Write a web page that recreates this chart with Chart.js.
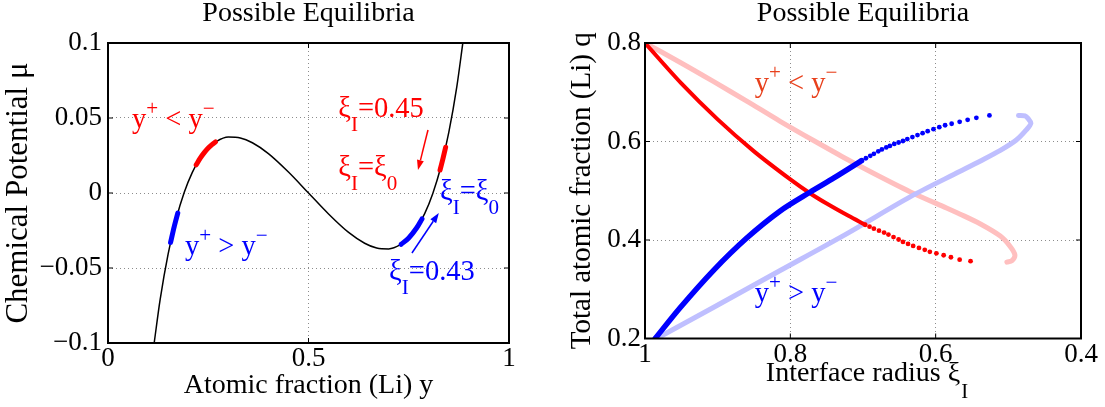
<!DOCTYPE html>
<html>
<head>
<meta charset="utf-8">
<script src="https://cdn.jsdelivr.net/npm/chart.js@4.4.1/dist/chart.umd.min.js"></script>
<style>
  body { margin: 0; background: #fff; }
  #wrap { position: relative; width: 1105px; height: 407px; }
  canvas { position: absolute; top: 0; }
</style>
</head>
<body>
<div id="wrap">
  <canvas id="muChart" width="560" height="407" style="left:0;width:560px;height:407px"></canvas>
  <canvas id="qChart" width="545" height="407" style="left:560px;width:545px;height:407px"></canvas>
</div>
<script>
/* =========================
   DATA
========================= */

// left: chemical potential vs atomic fraction
const yFrac = [0.115, 0.13, 0.15, 0.17, 0.19, 0.21, 0.23, 0.25, 0.27, 0.30, 0.33, 0.36, 0.40, 0.45, 0.50,
               0.55, 0.60, 0.64, 0.67, 0.70, 0.73, 0.75, 0.77, 0.79, 0.81, 0.83, 0.85, 0.87, 0.885];
const muVals = [-0.1003, -0.0711, -0.0406, -0.0173, 0.0003, 0.0136, 0.0232, 0.0300, 0.0343, 0.0373, 0.0367, 0.0335, 0.0263, 0.0140, 0,
                -0.0140, -0.0263, -0.0335, -0.0367, -0.0373, -0.0343, -0.0300, -0.0232, -0.0136, -0.0003, 0.0173, 0.0406, 0.0711, 0.1003];

// highlighted pieces of the curve
const redLowY = [0.22, 0.23, 0.24, 0.25, 0.26, 0.268];
const redLowMu = [0.0188, 0.0232, 0.0269, 0.0300, 0.0324, 0.0340];
const redHighY = [0.828, 0.835, 0.842];
const redHighMu = [0.0153, 0.0226, 0.0305];
const blueLowY = [0.156, 0.165, 0.174];
const blueLowMu = [-0.0330, -0.0226, -0.0134];
const blueHighY = [0.731, 0.75, 0.77, 0.783];
const blueHighMu = [-0.0342, -0.0300, -0.0232, -0.0173];

const yTicks = [0, 0.5, 1];
const yTickLabels = ["0", "0.5", "1"];
const muTicks = [-0.1, -0.05, 0, 0.05, 0.1];
const muTickLabels = ["\u22120.1", "\u22120.05", "0", "0.05", "0.1"];

// right: total atomic fraction vs interface radius
const redXi = [1.0, 0.95, 0.9, 0.85, 0.8, 0.773, 0.75, 0.72, 0.697];
const redQ = [0.8, 0.718, 0.645, 0.580, 0.523, 0.495, 0.474, 0.449, 0.431];
const redDotXi = [0.697, 0.691, 0.685, 0.678, 0.671, 0.665, 0.658, 0.651, 0.645, 0.638, 0.631, 0.623, 0.615, 0.608, 0.599, 0.589, 0.579, 0.567, 0.552];
const redDotQ = [0.431, 0.427, 0.423, 0.419, 0.415, 0.411, 0.406, 0.401, 0.396, 0.392, 0.388, 0.384, 0.380, 0.376, 0.373, 0.369, 0.365, 0.360, 0.357];

const blueXi = [0.986, 0.952, 0.906, 0.860, 0.814, 0.773, 0.740, 0.702];
const blueQ = [0.200, 0.262, 0.338, 0.404, 0.459, 0.497, 0.526, 0.561];
const blueDotXi = [0.702, 0.696, 0.690, 0.685, 0.679, 0.674, 0.668, 0.663, 0.657, 0.651, 0.645, 0.639, 0.632, 0.625, 0.618, 0.611, 0.603, 0.595, 0.587, 0.578, 0.567, 0.556, 0.544, 0.526];
const blueDotQ = [0.561, 0.566, 0.571, 0.575, 0.580, 0.584, 0.588, 0.591, 0.595, 0.598, 0.601, 0.605, 0.609, 0.613, 0.617, 0.621, 0.625, 0.629, 0.633, 0.636, 0.640, 0.644, 0.648, 0.653];

const pinkXi = [1.0, 0.952, 0.906, 0.860, 0.814, 0.768, 0.722, 0.677, 0.631, 0.585, 0.567, 0.539, 0.511, 0.498, 0.491, 0.495, 0.502];
const pinkQ = [0.8, 0.761, 0.722, 0.682, 0.641, 0.602, 0.564, 0.529, 0.495, 0.465, 0.453, 0.433, 0.408, 0.388, 0.370, 0.358, 0.355];

const paleBlueXi = [0.979, 0.906, 0.814, 0.722, 0.631, 0.567, 0.539, 0.511, 0.489, 0.475, 0.469, 0.473, 0.477, 0.486];
const paleBlueQ = [0.204, 0.263, 0.338, 0.413, 0.491, 0.539, 0.560, 0.582, 0.603, 0.624, 0.637, 0.647, 0.652, 0.653];

const xiTicks = [0.4, 0.6, 0.8, 1];
const xiTickLabels = ["0.4", "0.6", "0.8", "1"];
const qTicks = [0.2, 0.4, 0.6, 0.8];
const qTickLabels = ["0.2", "0.4", "0.6", "0.8"];

/* =========================
   HELPERS
========================= */

const FONT = "'Liberation Serif', 'Times New Roman', Times, serif";
const NOTE_SIZE = 28.5;
const XTITLE_SIZE = 28;

Chart.defaults.font.family = FONT;
Chart.defaults.color = "#000";

const pts = (xs, ys) => xs.map((x, i) => ({ x, y: ys[i] }));
const serif = (size, extra) => Object.assign({ family: FONT, size, weight: "normal", lineHeight: 1 }, extra || {});

function lineSet(xs, ys, color, width) {
  return {
    data: pts(xs, ys),
    showLine: true,
    borderColor: color,
    borderWidth: width,
    borderCapStyle: "round",
    borderJoinStyle: "round",
    pointRadius: 0,
    tension: 0.3
  };
}

function dotSet(xs, ys, color) {
  return {
    data: pts(xs, ys),
    showLine: false,
    pointRadius: 2.4,
    pointBorderWidth: 0,
    pointBackgroundColor: color
  };
}

function richText(ctx, x, y, parts, color, size) {
  ctx.save();
  ctx.fillStyle = color;
  ctx.textAlign = "left";
  ctx.textBaseline = "alphabetic";
  parts.forEach(p => {
    const small = p.sup || p.sub;
    ctx.font = `${small ? size * 0.74 : size}px ${FONT}`;
    const dy = p.sup ? -size * 0.45 : (p.sub ? size * 0.5 : 0);
    ctx.fillText(p.t, x, y + dy);
    x += ctx.measureText(p.t).width;
  });
  ctx.restore();
}

function arrow(ctx, x1, y1, x2, y2, color) {
  const a = Math.atan2(y2 - y1, x2 - x1);
  const len = 10, half = 3.5;
  const bx = x2 - Math.cos(a) * len, by = y2 - Math.sin(a) * len;
  ctx.save();
  ctx.strokeStyle = color;
  ctx.fillStyle = color;
  ctx.lineWidth = 1.5;
  ctx.beginPath();
  ctx.moveTo(x1, y1);
  ctx.lineTo(bx, by);
  ctx.stroke();
  ctx.beginPath();
  ctx.moveTo(x2, y2);
  ctx.lineTo(bx - Math.sin(a) * half, by + Math.cos(a) * half);
  ctx.lineTo(bx + Math.sin(a) * half, by - Math.cos(a) * half);
  ctx.closePath();
  ctx.fill();
  ctx.restore();
}

// box round the axes + small inward ticks (matlab style)
const framePlugin = {
  id: "frame",
  afterDraw(chart) {
    const { ctx, chartArea: a, scales: { x, y } } = chart;
    ctx.save();
    ctx.strokeStyle = "#000";
    ctx.setLineDash([]);
    ctx.lineWidth = 1;
    ctx.beginPath();
    x.ticks.forEach(t => {
      const px = x.getPixelForValue(t.value);
      ctx.moveTo(px, a.bottom); ctx.lineTo(px, a.bottom - 5);
      ctx.moveTo(px, a.top); ctx.lineTo(px, a.top + 5);
    });
    y.ticks.forEach(t => {
      const py = y.getPixelForValue(t.value);
      ctx.moveTo(a.left, py); ctx.lineTo(a.left + 5, py);
      ctx.moveTo(a.right, py); ctx.lineTo(a.right - 5, py);
    });
    ctx.stroke();
    ctx.lineWidth = 2;
    ctx.strokeRect(a.left, a.top, a.right - a.left, a.bottom - a.top);
    ctx.restore();
  }
};

function notesPlugin(notes, arrows, extra) {
  return {
    id: "notes",
    afterDraw(chart) {
      const { ctx, scales: { x, y } } = chart;
      notes.forEach(n => richText(ctx, x.getPixelForValue(n.at[0]), y.getPixelForValue(n.at[1]), n.parts, n.color, NOTE_SIZE));
      arrows.forEach(r => arrow(ctx,
        x.getPixelForValue(r.from[0]), y.getPixelForValue(r.from[1]),
        x.getPixelForValue(r.to[0]), y.getPixelForValue(r.to[1]), r.color));
      if (extra) extra(chart);
    }
  };
}

function baseScale(min, max, step, values, labels, pad) {
  return {
    type: "linear",
    min, max,
    ticks: {
      stepSize: step,
      padding: pad,
      autoSkip: false,
      maxRotation: 0,
      color: "#000",
      font: serif(27, { lineHeight: 1.2 }),
      // pick label by value (reversed axes reorder the tick list)
      callback: v => labels[values.findIndex(t => Math.abs(t - v) < 1e-6)]
    },
    grid: { color: "#8c8c8c", lineWidth: 1, drawTicks: false },
    border: { display: false, dash: [1, 3] }
  };
}

const titleOpts = {
  display: true,
  text: "Possible Equilibria",
  color: "#000",
  fullSize: false,
  font: serif(28),
  padding: { top: 0, bottom: 15 }
};

const LT = [{ t: "y" }, { t: "+", sup: 1 }, { t: " < y" }, { t: "\u2212", sup: 1 }];
const GT = [{ t: "y" }, { t: "+", sup: 1 }, { t: " > y" }, { t: "\u2212", sup: 1 }];
const XI0 = [{ t: "\u03BE" }, { t: "I", sub: 1 }, { t: "=\u03BE" }, { t: "0", sub: 1 }];

/* =========================
   LEFT: CHEMICAL POTENTIAL
========================= */

const leftNotes = [
  { at: [0.06, 0.0433], parts: LT, color: "#ff0000" },
  { at: [0.574, 0.0509], parts: [{ t: "\u03BE" }, { t: "I", sub: 1 }, { t: "=0.45" }], color: "#ff0000" },
  { at: [0.574, 0.0113], parts: XI0, color: "#ff0000" },
  { at: [0.828, -0.0045], parts: XI0, color: "#0000ff" },
  { at: [0.701, -0.058], parts: [{ t: "\u03BE" }, { t: "I", sub: 1 }, { t: "=0.43" }], color: "#0000ff" },
  { at: [0.192, -0.0413], parts: GT, color: "#0000ff" }
];
const leftArrows = [
  { from: [0.798, 0.042], to: [0.773, 0.0153], color: "#ff0000" },
  { from: [0.758, -0.040], to: [0.825, -0.0133], color: "#0000ff" }
];

const muX = baseScale(0, 1, 0.5, yTicks, yTickLabels, 0);
muX.afterFit = s => { s.height = 64; };
muX.title = { display: true, text: "Atomic fraction (Li) y", color: "#000", font: serif(XTITLE_SIZE), padding: { top: 0, bottom: 7 } };

const muY = baseScale(-0.1, 0.1, 0.05, muTicks, muTickLabels, 6);
muY.afterFit = s => { s.width = 108; };
muY.title = { display: true, text: "Chemical Potential \u03BC", color: "#000", font: serif(31), padding: { top: 3, bottom: 0 } };

new Chart(document.getElementById("muChart"), {
  type: "scatter",
  data: {
    datasets: [
      lineSet(redLowY, redLowMu, "#ff0000", 5),
      lineSet(redHighY, redHighMu, "#ff0000", 5),
      lineSet(blueLowY, blueLowMu, "#0000ff", 5),
      lineSet(blueHighY, blueHighMu, "#0000ff", 5),
      Object.assign(lineSet(yFrac, muVals, "#000000", 1.5), { tension: 0, cubicInterpolationMode: "monotone" })
    ]
  },
  options: {
    responsive: false,
    animation: false,
    font: { family: FONT },
    layout: { padding: { left: 0, right: 51, top: 0, bottom: 0 } },
    plugins: { legend: { display: false }, tooltip: { enabled: false }, title: titleOpts },
    scales: { x: muX, y: muY }
  },
  plugins: [framePlugin, notesPlugin(leftNotes, leftArrows)]
});

/* =========================
   RIGHT: TOTAL FRACTION
========================= */

const rightNotes = [
  { at: [0.849, 0.700], parts: LT, color: "#e8401c" },
  { at: [0.849, 0.275], parts: GT, color: "#0000ff" }
];

const XI_PAD = 19;
const qX = baseScale(0.4, 1, 0.2, xiTicks, xiTickLabels, 0);
qX.reverse = true;
qX.afterFit = s => { s.height = 68.5; };
qX.title = { display: true, text: "Interface radius \u03BE", color: "#000", font: serif(XTITLE_SIZE), padding: { top: 0, bottom: XI_PAD } };

const qY = baseScale(0.2, 0.8, 0.2, qTicks, qTickLabels, 4);
qY.afterFit = s => { s.width = 85; };
qY.title = { display: true, text: "Total atomic fraction (Li) q", color: "#000", font: serif(29), padding: { top: 8, bottom: 0 } };

// subscript I after the xi in the x title
function xiSubscript(chart) {
  const { ctx, scales: { x } } = chart;
  ctx.save();
  ctx.font = `${XTITLE_SIZE}px ${FONT}`;
  const w = ctx.measureText(x.options.title.text).width;
  const cx = (x.left + x.right) / 2;
  const cy = x.bottom - XI_PAD - XTITLE_SIZE / 2;
  ctx.font = `${XTITLE_SIZE * 0.74}px ${FONT}`;
  ctx.fillStyle = "#000";
  ctx.textBaseline = "alphabetic";
  ctx.fillText("I", cx + w / 2 + 1, cy + XTITLE_SIZE * 0.34 + XTITLE_SIZE * 0.5);
  ctx.restore();
}

new Chart(document.getElementById("qChart"), {
  type: "scatter",
  data: {
    datasets: [
      dotSet(blueDotXi, blueDotQ, "#0000ff"),
      dotSet(redDotXi, redDotQ, "#ff0000"),
      lineSet(blueXi, blueQ, "#0000ff", 5.5),
      lineSet(redXi, redQ, "#ff0000", 4),
      lineSet(paleBlueXi, paleBlueQ, "#bfbfff", 5),
      lineSet(pinkXi, pinkQ, "#ffbfbf", 5)
    ]
  },
  options: {
    responsive: false,
    animation: false,
    font: { family: FONT },
    layout: { padding: { left: 0, right: 24, top: 0, bottom: 0 } },
    plugins: { legend: { display: false }, tooltip: { enabled: false }, title: titleOpts },
    scales: { x: qX, y: qY }
  },
  plugins: [framePlugin, notesPlugin(rightNotes, [], xiSubscript)]
});
</script>
</body>
</html>
